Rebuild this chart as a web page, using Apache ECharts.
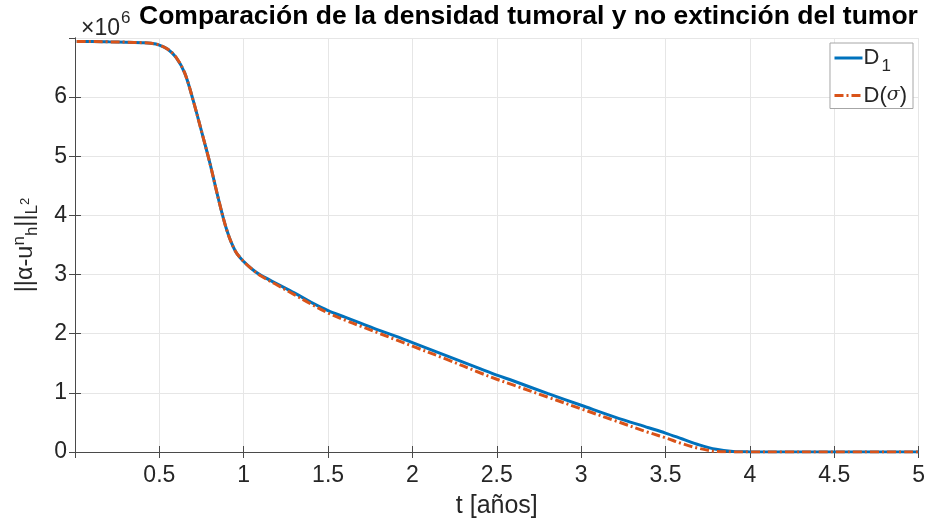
<!DOCTYPE html>
<html>
<head>
<meta charset="utf-8">
<script src="https://cdn.jsdelivr.net/npm/echarts@6/dist/echarts.min.js"></script>
<style>
  html, body { margin: 0; padding: 0; background: #fff; }
  #chart { width: 928px; height: 527px; }
</style>
</head>
<body>
<div id="chart"></div>
<script>
// Time samples (years)
const tYears = [0.01, 0.1, 0.2, 0.3, 0.4, 0.45, 0.5, 0.55, 0.6, 0.65, 0.7, 0.75, 0.8, 0.85, 0.9, 0.95,
  1.0, 1.05, 1.1, 1.2, 1.3, 1.4, 1.5, 1.6, 1.7, 1.8, 1.9, 2.0, 2.2, 2.4, 2.5, 2.6, 2.8, 3.0,
  3.2, 3.4, 3.5, 3.6, 3.7, 3.8, 3.9, 4.0, 4.2, 4.5, 5.0];

// Error norm with constant diffusion D1 (x 10^6)
const normD1 = [6.94, 6.94, 6.935, 6.93, 6.92, 6.91, 6.88, 6.81, 6.67, 6.41, 5.95, 5.42, 4.88, 4.28, 3.75, 3.40,
  3.22, 3.09, 2.99, 2.84, 2.69, 2.53, 2.39, 2.28, 2.17, 2.06, 1.96, 1.85, 1.63, 1.41, 1.30, 1.20, 0.99, 0.79,
  0.59, 0.41, 0.32, 0.22, 0.12, 0.045, 0.01, 0.002, 0, 0, 0];

// Error norm with diffusion D(sigma) (x 10^6)
const normDsigma = [6.94, 6.94, 6.935, 6.93, 6.92, 6.91, 6.88, 6.81, 6.67, 6.41, 5.95, 5.42, 4.88, 4.28, 3.75, 3.40,
  3.22, 3.09, 2.98, 2.82, 2.66, 2.50, 2.35, 2.23, 2.12, 2.01, 1.90, 1.79, 1.57, 1.34, 1.23, 1.13, 0.93, 0.73,
  0.53, 0.33, 0.24, 0.14, 0.06, 0.01, 0.002, 0, 0, 0, 0];

const xTicks = [0.5, 1, 1.5, 2, 2.5, 3, 3.5, 4, 4.5, 5];
const yTicks = [0, 1, 2, 3, 4, 5, 6];

const FONT = '"Liberation Sans", Arial, Helvetica, sans-serif';
const AXIS_COLOR = '#4a4a4a';
const TEXT_COLOR = '#262626';
const GRID_COLOR = '#e6e6e6';

const pairs = (xs, ys) => xs.map((x, i) => [x, ys[i]]);

const chart = echarts.init(document.getElementById('chart'), null, { renderer: 'canvas' });

const boxAxisCommon = {
  axisLine: { show: true, lineStyle: { color: AXIS_COLOR, width: 1 } },
  axisTick: { show: true, inside: true, length: 6, lineStyle: { color: AXIS_COLOR } },
  axisLabel: { show: false },
  splitLine: { show: false }
};

chart.setOption({
  animation: false,
  backgroundColor: '#ffffff',
  textStyle: { fontFamily: FONT },
  title: [
    {
      text: '{a|×10}{s|6}',
      left: 76,
      top: 0,
      textStyle: {
        rich: {
          a: { fontFamily: FONT, fontSize: 23, fontWeight: 'normal', color: TEXT_COLOR, padding: [12, 0, 0, 0] },
          s: { fontFamily: FONT, fontSize: 17, fontWeight: 'normal', color: TEXT_COLOR, padding: [0, 0, 8, 1] }
        }
      }
    },
    {
      text: 'Comparación de la densidad tumoral y no extinción del tumor',
      left: 134,
      top: -2,
      textStyle: { fontFamily: FONT, fontSize: 26.5, fontWeight: 'bold', color: '#000' }
    }
  ],
  legend: {
    orient: 'vertical',
    right: 15,
    top: 43,
    padding: [4, 6, 2, 3],
    itemWidth: 28,
    itemHeight: 14,
    itemGap: 10,
    backgroundColor: '#fff',
    borderColor: '#a6a6a6',
    borderWidth: 1,
    itemStyle: { opacity: 0 },
    lineStyle: { width: 3 },
    data: ['D1', 'Dsigma'],
    formatter: function (name) {
      return name === 'D1' ? '{n|D}{sub|1}' : '{n|D(}{g|σ}{n|)}';
    },
    textStyle: {
      color: TEXT_COLOR,
      padding: [0, 0, 0, -4],
      rich: {
        n: { fontFamily: FONT, fontSize: 22, color: TEXT_COLOR },
        sub: { fontFamily: FONT, fontSize: 17, color: TEXT_COLOR, padding: [16, 0, 0, 2] },
        g: { fontFamily: '"DejaVu Serif", serif', fontStyle: 'italic', fontSize: 19, color: TEXT_COLOR }
      }
    }
  },
  grid: { left: 75, right: 9, top: 38, bottom: 75, containLabel: false },
  xAxis: [
    {
      type: 'value',
      min: 0,
      max: 5,
      interval: 0.5,
      position: 'bottom',
      name: 't [años]',
      nameLocation: 'middle',
      nameGap: 42,
      nameTextStyle: { fontFamily: FONT, fontSize: 25, color: TEXT_COLOR },
      axisLine: { show: true, lineStyle: { color: AXIS_COLOR, width: 1 } },
      axisTick: { show: true, inside: true, length: 6, lineStyle: { color: AXIS_COLOR } },
      axisLabel: {
        showMinLabel: false,
        margin: 12,
        fontFamily: FONT,
        fontSize: 23,
        color: TEXT_COLOR,
        formatter: v => (xTicks.some(t => Math.abs(t - v) < 1e-9) ? String(v) : '')
      },
      splitLine: { show: true, lineStyle: { color: GRID_COLOR, width: 1 } }
    },
    Object.assign({ type: 'value', min: 0, max: 5, interval: 0.5, position: 'top' }, boxAxisCommon)
  ],
  yAxis: [
    {
      type: 'value',
      min: 0,
      max: 7,
      interval: 1,
      position: 'left',
      name: '{a|||α-u}{s|n}{b|h}{a|||}{b|L}{c|2}',
      nameLocation: 'middle',
      nameRotate: 90,
      nameGap: 34,
      nameTextStyle: {
        color: TEXT_COLOR,
        rich: {
          a: { fontFamily: FONT, fontSize: 23.5, color: TEXT_COLOR },
          s: { fontFamily: FONT, fontSize: 17, color: TEXT_COLOR, padding: [0, 0, 13, 0] },
          b: { fontFamily: FONT, fontSize: 17, color: TEXT_COLOR, padding: [13, 0, 0, 0] },
          c: { fontFamily: FONT, fontSize: 13, color: TEXT_COLOR, padding: [0, 0, 2, 0] }
        }
      },
      axisLine: { show: true, lineStyle: { color: AXIS_COLOR, width: 1 } },
      axisTick: { show: true, inside: true, length: 6, lineStyle: { color: AXIS_COLOR } },
      axisLabel: {
        showMaxLabel: false,
        margin: 8,
        fontFamily: FONT,
        fontSize: 23,
        color: TEXT_COLOR,
        formatter: v => (yTicks.includes(v) ? String(v) : '')
      },
      splitLine: { show: true, lineStyle: { color: GRID_COLOR, width: 1 } }
    },
    Object.assign({ type: 'value', min: 0, max: 7, interval: 1, position: 'right' }, boxAxisCommon)
  ],
  series: [
    {
      name: 'D1',
      type: 'line',
      data: pairs(tYears, normD1),
      showSymbol: false,
      symbol: 'none',
      smooth: 0.35,
      lineStyle: { color: '#0072BD', width: 3 },
      itemStyle: { color: '#0072BD' },
      z: 3
    },
    {
      name: 'Dsigma',
      type: 'line',
      data: pairs(tYears, normDsigma),
      showSymbol: false,
      symbol: 'none',
      smooth: 0.35,
      lineStyle: { color: '#D95319', width: 3, type: [9, 3, 2, 3] },
      itemStyle: { color: '#D95319' },
      z: 4
    }
  ]
});
</script>
</body>
</html>
